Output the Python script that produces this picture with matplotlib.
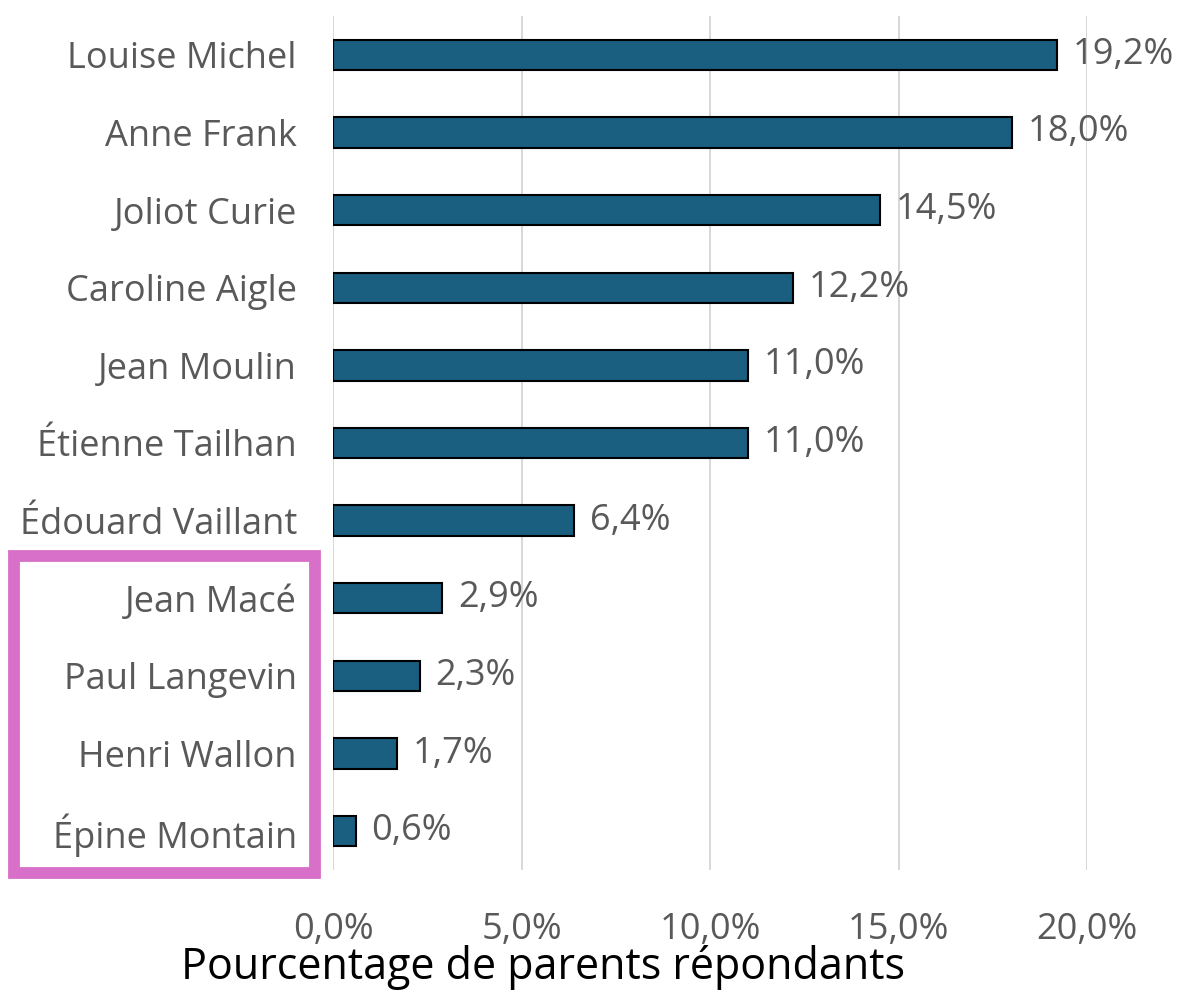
import matplotlib.pyplot as plt
from matplotlib.patches import Rectangle
from matplotlib import font_manager

# data (top to bottom as shown)
schools = ["Louise Michel", "Anne Frank", "Joliot Curie", "Caroline Aigle",
           "Jean Moulin", "Étienne Tailhan", "Édouard Vaillant", "Jean Macé",
           "Paul Langevin", "Henri Wallon", "Épine Montain"]
pct = [19.2, 18.0, 14.5, 12.2, 11.0, 11.0, 6.4, 2.9, 2.3, 1.7, 0.6]
xticks = [0, 5, 10, 15, 20]
xlabel = "Pourcentage de parents répondants"

names = {f.name for f in font_manager.fontManager.ttflist}
narrow = "Liberation Sans Narrow" if "Liberation Sans Narrow" in names else "Open Sans"

def fr(v):
    return f"{v:.1f}".replace(".", ",") + "%"

fig = plt.figure(figsize=(11.84, 9.93), dpi=100)
ax = fig.add_axes([333/1184, 1-870/993, (1087-333)/1184, (870-16)/993])

y = list(range(len(schools)))[::-1]
ax.barh(y, pct, height=0.39, color="#1a5e80", edgecolor="black", linewidth=1.5, zorder=3)

for yi, v in zip(y, pct):
    ax.text(v + 0.42, yi, fr(v), va="center", ha="left", fontsize=26,
            color="#595959", family=narrow)

ax.set_xlim(0, 20)
ax.set_ylim(-0.5, len(schools) - 0.5)
ax.set_xticks(xticks)
ax.set_xticklabels([fr(t) for t in xticks], fontsize=26, color="#595959", family=narrow)
ax.set_yticks(y)
ax.set_yticklabels(schools, fontsize=26, color="#595959", family=narrow)
ax.tick_params(axis="both", length=0)
ax.tick_params(axis="y", pad=26)
ax.tick_params(axis="x", pad=30)
ax.grid(axis="x", color="#d4d4d4", linewidth=1.3, zorder=0)
for s in ax.spines.values():
    s.set_visible(False)

fig.text(543/1184, 1-968/993, xlabel, ha="center", va="center", fontsize=31,
         color="black", family="Open Sans")

# pink highlight box around the last four schools
fig.patches.append(Rectangle((14/1184, 1-873/993), (315-14)/1184, (873-556)/993,
                             transform=fig.transFigure, fill=False,
                             edgecolor="#d86fc8", linewidth=8.5))

fig.savefig("out.png", dpi=100)
